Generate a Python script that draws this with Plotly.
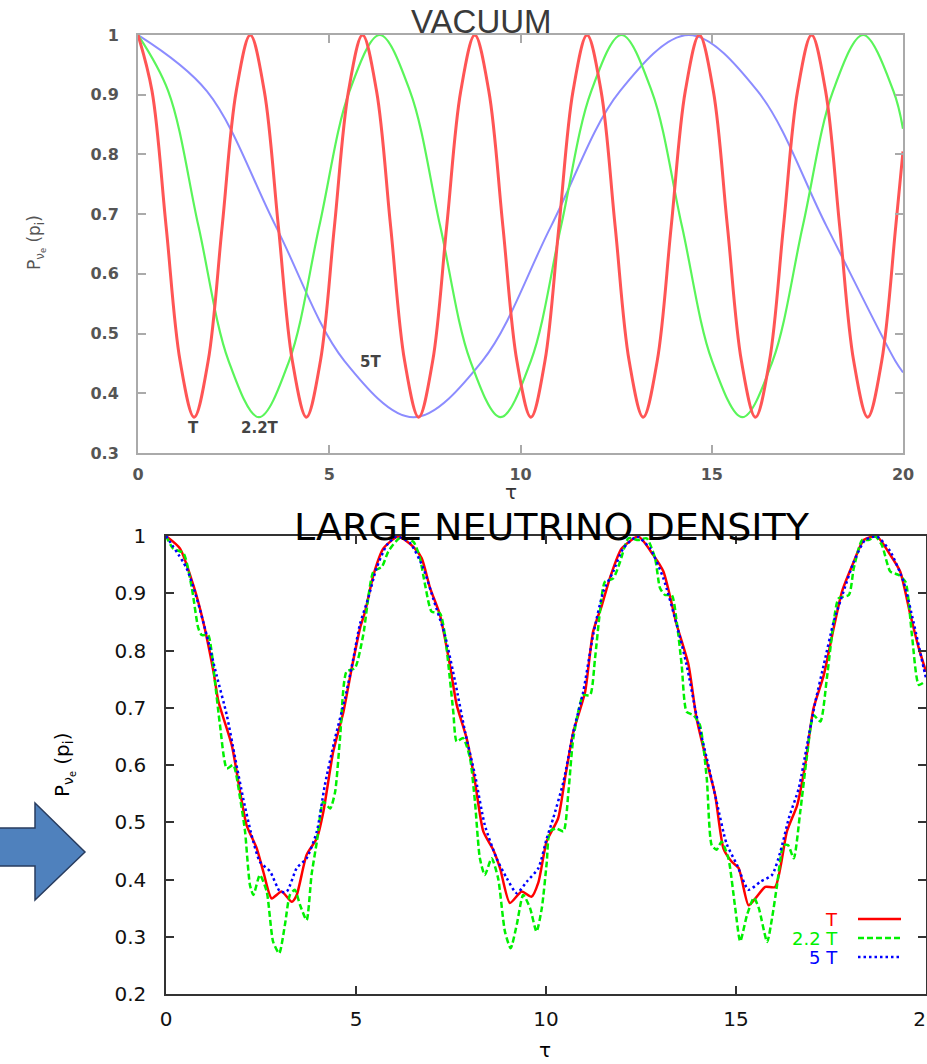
import plotly.graph_objects as go

W, H = 927, 1064

# ---------------- data: VACUUM panel ----------------
TAU_VAC_T = [0, 0.367, 0.734, 1.101, 1.468, 1.834, 2.201, 2.568,
             2.935, 3.302, 3.669, 4.036, 4.403, 4.769, 5.136, 5.503,
             5.870, 6.237, 6.604, 6.971, 7.338, 7.704, 8.071, 8.438,
             8.805, 9.172, 9.539, 9.906, 10.273, 10.639, 11.006, 11.373,
             11.740, 12.107, 12.474, 12.841, 13.208, 13.574, 13.941, 14.308,
             14.675, 15.042, 15.409, 15.776, 16.143, 16.509, 16.876, 17.243,
             17.610, 17.977, 18.344, 18.711, 19.078, 19.444, 19.811, 20.0]
P_VAC_T = [1, 0.906, 0.68, 0.454, 0.36, 0.454, 0.68, 0.906,
           1, 0.906, 0.68, 0.454, 0.36, 0.454, 0.68, 0.906,
           1, 0.906, 0.68, 0.454, 0.36, 0.454, 0.68, 0.906,
           1, 0.906, 0.68, 0.454, 0.36, 0.454, 0.68, 0.906,
           1, 0.906, 0.68, 0.454, 0.36, 0.454, 0.68, 0.906,
           1, 0.906, 0.68, 0.454, 0.36, 0.454, 0.68, 0.906,
           1, 0.906, 0.68, 0.454, 0.36, 0.454, 0.68, 0.805]

TAU_VAC_22T = [0, 0.79, 1.58, 2.37, 3.16, 3.95, 4.74, 5.53,
               6.32, 7.11, 7.90, 8.69, 9.48, 10.27, 11.06, 11.85,
               12.64, 13.43, 14.22, 15.01, 15.80, 16.59, 17.38, 18.17,
               18.96, 19.75, 20.0]
P_VAC_22T = [1, 0.906, 0.68, 0.454, 0.36, 0.454, 0.68, 0.906,
             1, 0.906, 0.68, 0.454, 0.36, 0.454, 0.68, 0.906,
             1, 0.906, 0.68, 0.454, 0.36, 0.454, 0.68, 0.906,
             1, 0.906, 0.843]

TAU_VAC_5T = [0, 1.8, 3.6, 5.4, 7.2, 9.0, 10.8, 12.6, 14.4, 16.2, 18.0, 19.8, 20.0]
P_VAC_5T = [1, 0.906, 0.68, 0.454, 0.36, 0.454, 0.68, 0.906, 1, 0.906, 0.68, 0.454, 0.435]

# ---------------- data: LARGE NEUTRINO DENSITY panel ----------------
TAU_DEN_T = [0, 0.37, 0.72, 0.98, 1.25, 1.38, 1.73, 1.95, 2.12, 2.39, 2.56, 2.78,
             3.04, 3.31, 3.44, 3.70, 3.97, 4.14, 4.40, 4.67, 4.89, 5.11, 5.24,
             5.46, 5.72, 6.11, 6.51, 6.73, 6.95, 7.21, 7.47, 7.65, 7.91, 8.13,
             8.35, 8.61, 8.79, 9.05, 9.36, 9.62, 9.80, 10.02, 10.32, 10.50,
             10.72, 10.85, 11.03, 11.24, 11.47, 11.68, 11.99, 12.43, 12.82,
             13.09, 13.44, 13.75, 13.96, 14.23, 14.45, 14.67, 14.89, 15.07,
             15.33, 15.51, 15.77, 16.03, 16.34, 16.61, 16.82, 17.04, 17.31,
             17.57, 17.79, 18.10, 18.36, 18.71, 19.06, 19.32, 19.59, 19.81, 20.0]
P_DEN_T = [1.0, 0.978, 0.914, 0.85, 0.763, 0.711, 0.635, 0.553, 0.495, 0.454, 0.414, 0.367,
           0.379, 0.361, 0.373, 0.443, 0.472, 0.518, 0.623, 0.693, 0.770, 0.840, 0.868,
           0.932, 0.978, 0.999, 0.981, 0.961, 0.909, 0.862, 0.775, 0.705, 0.647, 0.571,
           0.484, 0.452, 0.420, 0.359, 0.379, 0.370, 0.395, 0.467, 0.507, 0.577,
           0.658, 0.687, 0.728, 0.833, 0.879, 0.926, 0.978, 0.999, 0.967,
           0.938, 0.845, 0.775, 0.682, 0.606, 0.548, 0.454, 0.431, 0.420,
           0.355, 0.367, 0.387, 0.387, 0.484, 0.530, 0.600, 0.699, 0.757,
           0.839, 0.903, 0.955, 0.993, 0.999, 0.967, 0.938, 0.862, 0.804, 0.763]

TAU_DEN_22T = [0, 0.19, 0.46, 0.68, 0.85, 0.94, 1.11, 1.20, 1.29, 1.42, 1.60, 1.77,
               1.95, 2.08, 2.21, 2.30, 2.47, 2.65, 2.82, 2.98, 3.13, 3.26, 3.39,
               3.53, 3.70, 3.83, 3.97, 4.14, 4.32, 4.45, 4.58, 4.75, 4.97, 5.19,
               5.46, 5.68, 5.85, 6.16, 6.51, 6.68, 6.82, 6.99, 7.21, 7.34, 7.47,
               7.56, 7.65, 7.82, 8.00, 8.13, 8.26, 8.39, 8.57, 8.74, 8.92, 9.07,
               9.23, 9.40, 9.58, 9.75, 9.89, 10.02, 10.10, 10.28, 10.46, 10.59,
               10.72, 10.98, 11.16, 11.29, 11.42, 11.55, 11.77, 11.95, 12.17,
               12.43, 12.65, 12.87, 13.00, 13.13, 13.31, 13.44, 13.57, 13.70,
               13.88, 14.05, 14.23, 14.36, 14.49, 14.62, 14.80, 14.98, 15.11,
               15.29, 15.47, 15.60, 15.82, 15.95, 16.08, 16.25, 16.37, 16.52,
               16.69, 16.87, 17.04, 17.22, 17.39, 17.57, 17.70, 17.97, 18.10,
               18.32, 18.49, 18.67, 18.84, 19.06, 19.28, 19.46, 19.63, 19.81, 19.98]
P_DEN_22T = [1.0, 0.978, 0.970, 0.909, 0.839, 0.827, 0.827, 0.798, 0.745, 0.670, 0.594, 0.600,
             0.542, 0.484, 0.390, 0.373, 0.408, 0.379, 0.291, 0.271, 0.321, 0.373, 0.382,
             0.355, 0.329, 0.408, 0.466, 0.536, 0.524, 0.553, 0.647, 0.763, 0.769, 0.827,
             0.938, 0.946, 0.973, 0.997, 0.990, 0.962, 0.914, 0.868, 0.865, 0.827, 0.751,
             0.693, 0.641, 0.647, 0.612, 0.536, 0.437, 0.408, 0.437, 0.402, 0.309, 0.280,
             0.321, 0.373, 0.350, 0.309, 0.350, 0.430, 0.484, 0.489, 0.484, 0.553,
             0.647, 0.722, 0.722, 0.786, 0.868, 0.920, 0.926, 0.955, 0.996,
             0.993, 0.996, 0.961, 0.909, 0.897, 0.897, 0.850, 0.775, 0.693,
             0.687, 0.670, 0.577, 0.460, 0.452, 0.466, 0.437, 0.350, 0.292,
             0.338, 0.368, 0.350, 0.291, 0.333, 0.390, 0.460, 0.460, 0.437,
             0.518, 0.617, 0.687, 0.676, 0.751, 0.850, 0.891, 0.897, 0.944,
             0.993, 0.993, 0.999, 0.984, 0.938, 0.932, 0.920, 0.827, 0.740, 0.746]

TAU_DEN_5T = [0, 0.54, 0.81, 1.07, 1.33, 1.60, 1.82, 2.03, 2.25, 2.47, 2.74, 3.00,
              3.18, 3.44, 3.70, 3.97, 4.18, 4.45, 4.71, 4.93, 5.10, 5.32, 5.54,
              5.81, 6.07, 6.42, 6.77, 7.03, 7.34, 7.61, 7.87, 8.13, 8.39, 8.70,
              8.97, 9.23, 9.49, 9.80, 10.02, 10.19, 10.46, 10.72, 10.98, 11.24,
              11.51, 11.77, 12.03, 12.39, 12.74, 13.09, 13.44, 13.70, 13.96,
              14.23, 14.49, 14.75, 15.03, 15.33, 15.64, 15.95, 16.17, 16.39,
              16.65, 16.87, 17.09, 17.31, 17.57, 17.83, 18.10, 18.40, 18.71,
              19.06, 19.41, 19.67, 19.94, 20.0]
P_DEN_5T = [1.0, 0.944, 0.891, 0.827, 0.757, 0.687, 0.612, 0.542, 0.478, 0.431, 0.414, 0.379,
            0.379, 0.420, 0.437, 0.484, 0.565, 0.647, 0.716, 0.786, 0.845, 0.891, 0.944,
            0.984, 0.999, 0.988, 0.944, 0.891, 0.827, 0.745, 0.658, 0.583, 0.495, 0.437,
            0.402, 0.376, 0.396, 0.420, 0.472, 0.507, 0.571, 0.658, 0.728, 0.827,
            0.903, 0.938, 0.978, 0.999, 0.978, 0.926, 0.845, 0.775, 0.687,
            0.612, 0.536, 0.463, 0.425, 0.382, 0.396, 0.408, 0.449, 0.507,
            0.559, 0.635, 0.711, 0.775, 0.850, 0.903, 0.955, 0.993, 0.999,
            0.973, 0.920, 0.850, 0.769, 0.752]

X_TICKS = [0, 5, 10, 15, 20]
X_TICK_TEXT = ["0", "5", "10", "15", "20"]
Y_TICKS_VAC = [0.3, 0.4, 0.5, 0.6, 0.7, 0.8, 0.9, 1.0]
Y_TICK_TEXT_VAC = ["0.3", "0.4", "0.5", "0.6", "0.7", "0.8", "0.9", "1"]
Y_TICKS_DEN = [0.2, 0.3, 0.4, 0.5, 0.6, 0.7, 0.8, 0.9, 1.0]
Y_TICK_TEXT_DEN = ["0.2", "0.3", "0.4", "0.5", "0.6", "0.7", "0.8", "0.9", "1"]
SERIES_NAMES = ["T", "2.2 T", "5 T"]
VAC_LABELS = ["T", "2.2T", "5T"]


def fx(p):
    return p / W


def fy(p):
    return 1 - p / H


fig = go.Figure()

# top panel (vacuum)
fig.add_trace(go.Scatter(x=TAU_VAC_5T, y=P_VAC_5T, xaxis="x", yaxis="y", mode="lines",
                         line=dict(color="rgb(140,140,255)", width=2, shape="spline", smoothing=1.0),
                         showlegend=False, hoverinfo="skip"))
fig.add_trace(go.Scatter(x=TAU_VAC_22T, y=P_VAC_22T, xaxis="x", yaxis="y", mode="lines",
                         line=dict(color="rgb(90,245,90)", width=2.2, shape="spline", smoothing=1.0),
                         showlegend=False, hoverinfo="skip"))
fig.add_trace(go.Scatter(x=TAU_VAC_T, y=P_VAC_T, xaxis="x", yaxis="y", mode="lines",
                         line=dict(color="rgb(255,85,85)", width=3, shape="spline", smoothing=1.0),
                         showlegend=False, hoverinfo="skip"))

# bottom panel (large neutrino density)
fig.add_trace(go.Scatter(x=TAU_DEN_T, y=P_DEN_T, xaxis="x2", yaxis="y2", mode="lines",
                         line=dict(color="rgb(255,0,0)", width=2.5, shape="spline", smoothing=0.6),
                         showlegend=False, hoverinfo="skip"))
fig.add_trace(go.Scatter(x=TAU_DEN_22T, y=P_DEN_22T, xaxis="x2", yaxis="y2", mode="lines",
                         line=dict(color="rgb(0,240,0)", width=2.5, dash="6px,3px", shape="spline", smoothing=0.6),
                         showlegend=False, hoverinfo="skip"))
fig.add_trace(go.Scatter(x=TAU_DEN_5T, y=P_DEN_5T, xaxis="x2", yaxis="y2", mode="lines",
                         line=dict(color="rgb(0,0,255)", width=2.5, dash="2.5px,3px", shape="spline", smoothing=0.6),
                         showlegend=False, hoverinfo="skip"))

top_tick_font = dict(family="DejaVu Sans", size=16, color="#555555", weight="bold")
bot_tick_font = dict(family="DejaVu Sans", size=20, color="#111111")

common = dict(ticks="inside", ticklen=8, showline=True, mirror="ticks", showgrid=False,
              zeroline=False, automargin=False, fixedrange=True)

fig.update_layout(
    width=W, height=H,
    margin=dict(l=0, r=0, t=0, b=0, pad=0, autoexpand=False),
    paper_bgcolor="white", plot_bgcolor="white",
    showlegend=False,
    xaxis=dict(domain=[fx(138), fx(903)], range=[0, 20], anchor="y",
               tickvals=X_TICKS, ticktext=X_TICK_TEXT, ticklabeloverflow="allow",
               tickwidth=2, tickcolor="#aaaaaa", linecolor="#aaaaaa", linewidth=2,
               tickfont=top_tick_font, ticklabelstandoff=6, **common),
    yaxis=dict(domain=[fy(453), fy(35)], range=[0.3, 1.0], anchor="x",
               tickvals=Y_TICKS_VAC, ticktext=Y_TICK_TEXT_VAC,
               tickwidth=2, tickcolor="#aaaaaa", linecolor="#aaaaaa", linewidth=2,
               tickfont=top_tick_font, ticklabelstandoff=14, **common),
    xaxis2=dict(domain=[fx(166), fx(926)], range=[0, 20], anchor="y2",
                tickvals=X_TICKS, ticktext=X_TICK_TEXT, ticklabeloverflow="allow",
                tickwidth=1.5, tickcolor="#333333", linecolor="#333333", linewidth=1.5,
                tickfont=bot_tick_font, ticklabelstandoff=6, **common),
    yaxis2=dict(domain=[fy(994), fy(536)], range=[0.2, 1.0], anchor="x2",
                tickvals=Y_TICKS_DEN, ticktext=Y_TICK_TEXT_DEN,
                tickwidth=1.5, tickcolor="#333333", linecolor="#333333", linewidth=1.5,
                tickfont=bot_tick_font, ticklabelstandoff=14, **common),
)

ann = []
# top panel texts
ann.append(dict(text="VACUUM", x=fx(481), y=fy(21), xref="paper", yref="paper",
                showarrow=False, xanchor="center", yanchor="middle",
                font=dict(family="Liberation Sans", size=33, color="#3a3a3a")))
ann.append(dict(text="τ", x=fx(511), y=fy(492), xref="paper", yref="paper",
                showarrow=False, xanchor="center", yanchor="middle",
                font=dict(family="DejaVu Sans", size=20, color="#333333")))
ann.append(dict(text="P<sub>ν<sub>e</sub></sub> (p<sub>i</sub>)", x=fx(36), y=fy(243),
                xref="paper", yref="paper", textangle=-90, showarrow=False,
                xanchor="center", yanchor="middle",
                font=dict(family="DejaVu Sans", size=17, color="#555555")))
for lbl, xv, yv in zip(VAC_LABELS, [1.44, 3.19, 6.07], [0.342, 0.342, 0.452]):
    ann.append(dict(text=lbl, x=xv, y=yv, xref="x", yref="y", showarrow=False,
                    xanchor="center", yanchor="middle",
                    font=dict(family="DejaVu Sans", size=15, color="#444444", weight="bold")))

# bottom panel texts
ann.append(dict(text="LARGE NEUTRINO DENSITY", x=fx(552), y=fy(527), xref="paper", yref="paper",
                showarrow=False, xanchor="center", yanchor="middle",
                font=dict(family="DejaVu Sans", size=38, color="#000000")))
ann.append(dict(text="τ", x=fx(545), y=fy(1050), xref="paper", yref="paper",
                showarrow=False, xanchor="center", yanchor="middle",
                font=dict(family="DejaVu Sans", size=20, color="#000000")))
ann.append(dict(text="P<sub>ν<sub>e</sub></sub> (p<sub>i</sub>)", x=fx(64), y=fy(765),
                xref="paper", yref="paper", textangle=-90, showarrow=False,
                xanchor="center", yanchor="middle",
                font=dict(family="DejaVu Sans", size=20, color="#000000")))

# legend (bottom panel)
leg_colors = ["rgb(255,0,0)", "rgb(0,240,0)", "rgb(0,0,255)"]
leg_dash = ["solid", "6px,3px", "2.5px,3px"]
leg_y = [919, 938, 957]
shapes = []
for name, col, dsh, ly in zip(SERIES_NAMES, leg_colors, leg_dash, leg_y):
    ann.append(dict(text=name, x=fx(840), y=fy(ly), xref="paper", yref="paper",
                    showarrow=False, xanchor="right", yanchor="middle",
                    font=dict(family="DejaVu Sans", size=18, color=col)))
    shapes.append(dict(type="line", xref="paper", yref="paper",
                       x0=fx(858), x1=fx(901), y0=fy(ly), y1=fy(ly),
                       line=dict(color=col, width=2.5, dash=dsh)))

# blue block arrow on the left
pts = [(-5, 828), (35, 828), (35, 803), (85, 852), (35, 900), (35, 866), (-5, 866)]
path = "M " + " L ".join(f"{fx(a):.5f},{fy(b):.5f}" for a, b in pts) + " Z"
shapes.append(dict(type="path", xref="paper", yref="paper", path=path,
                   fillcolor="rgb(79,129,189)", line=dict(color="rgb(40,60,95)", width=1.5)))

fig.update_layout(annotations=ann, shapes=shapes)

fig.write_html("out.html", include_plotlyjs=True, full_html=True,
               config={"displayModeBar": False},
               post_script="document.body.style.margin='0';")
